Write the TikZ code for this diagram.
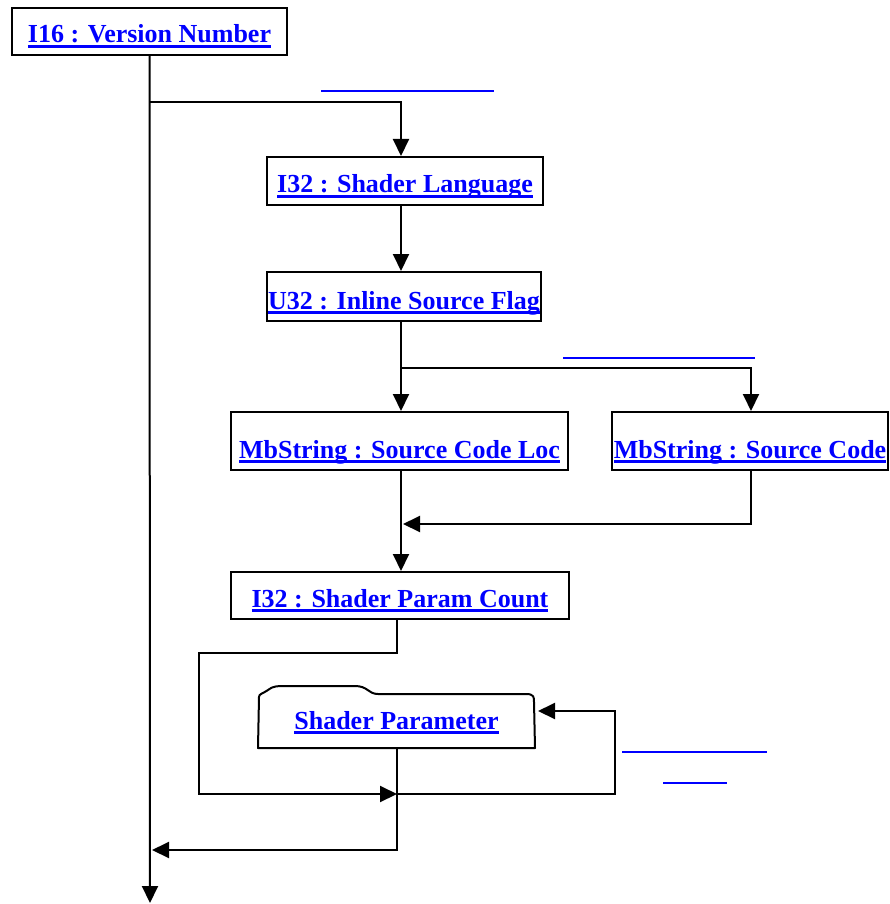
\documentclass[tikz,border=0pt]{standalone}
\usepackage{fontspec}
\setmainfont{Liberation Serif}
\usetikzlibrary{arrows.meta}
\definecolor{linkblue}{RGB}{0,0,255}
\newcommand{\linkul}[1]{\setbox0\hbox{#1}\rlap{\color{linkblue}\rule[-5pt]{\wd0}{2.8pt}}\box0}
\begin{document}
\begin{tikzpicture}
		[x=1pt,y=-1pt,
		fieldbox/.style={rectangle,draw,line width=2pt,inner sep=0pt,minimum width=275pt,minimum height=47pt,
			text height=35pt,text depth=12pt,
			font=\fontsize{26}{30}\selectfont\bfseries,text=linkblue},
		flowline/.style={line width=2pt},
		flowarrow/.style={line width=2pt,-{Triangle[length=17pt,width=16pt]}},
		emptylink/.style={linkblue,line width=2.8pt}]
		\useasboundingbox (0,0) rectangle (890,904);
		% field boxes
		\node[fieldbox,name=version] at (149.5,31.5) {\linkul{I16 : Version Number}};
		\node[fieldbox,name=lang,minimum width=276pt,minimum height=48pt,text height=36pt] at (405,181) {\linkul{I32 : Shader Language}};
		\node[fieldbox,name=flag,minimum width=274pt,minimum height=49pt,text height=37pt] at (404,296.5) {\linkul{U32 : Inline Source Flag}};
		\node[fieldbox,name=loc,minimum width=337pt,minimum height=58pt,text height=46pt] at (399.5,441) {\linkul{MbString : Source Code Loc}};
		\node[fieldbox,name=code,minimum width=276pt,minimum height=58pt,text height=46pt] at (750,441) {\linkul{MbString : Source Code}};
		\node[fieldbox,name=count,minimum width=338pt] at (400,595.5) {\linkul{I32 : Shader Param Count}};
		\node[fieldbox,name=param,draw=none,minimum height=53pt,text height=35pt,text depth=18pt] at (396.5,720.5) {\linkul{Shader Parameter}};
		% tabbed outline of the repeated block
		\draw[flowline,line join=round] (param.south west) -- (259,697)
			.. controls (259,694) and (262,694) .. (268,690)
			.. controls (273,686) and (276,686) .. (290,686) -- (355,686)
			.. controls (368,686) and (368,694) .. (378,694) -- (526,694)
			.. controls (534,694) and (534,697) .. (534,702) -- (param.south east) -- cycle;
		% junction points
		\coordinate (spine) at (401,0);
		\coordinate (j1) at (150,102);
		\coordinate (j2) at (401,368);
		\coordinate (j3) at (403,524);
		\coordinate (j4) at (397,794);
		\coordinate (loopleft) at (199,794);
		\coordinate (back) at (538,711);
		\coordinate (join) at (152,850);
		\coordinate (exit) at (150,903);
		% connectors
		\draw[flowarrow] (version.south) -- (exit);
		\draw[flowarrow] (j1) -| (spine |- lang.north);
		\draw[flowarrow] (spine |- lang.south) -- (spine |- flag.north);
		\draw[flowarrow] (spine |- flag.south) -- (spine |- loc.north);
		\draw[flowarrow] (j2) -| ([xshift=1pt]code.north);
		\draw[flowarrow] (spine |- loc.south) -- (spine |- count.north);
		\draw[flowarrow] ([xshift=1pt]code.south) |- (j3);
		\draw[flowarrow] (count.south -| param.south) -- ++(0,33) -| (loopleft) -- (j4);
		\draw[flowarrow] (j4) -- ++(218,0) |- (back);
		\draw[flowarrow] (param.south) |- (join);
		% empty link labels
		\draw[emptylink] (321,91) -- (494,91);
		\draw[emptylink] (563,358) -- (755,358);
		\draw[emptylink] (622,752) -- (767,752);
		\draw[emptylink] (663,783) -- (727,783);
\end{tikzpicture}
\end{document}
